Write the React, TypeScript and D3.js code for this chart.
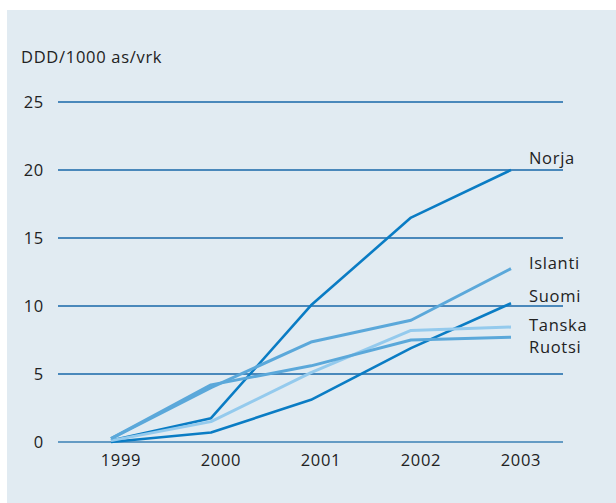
import React from "react";
import * as d3 from "d3";

const years = ["1999", "2000", "2001", "2002", "2003"];
const yTicks = [0, 5, 10, 15, 20, 25];
const seriesNames = ["Norja", "Islanti", "Suomi", "Tanska", "Ruotsi"];
const norja = [0.1, 1.75, 10.05, 16.5, 20.0];
const islanti = [0.25, 4.0, 7.35, 8.95, 12.75];
const suomi = [0.0, 0.7, 3.1, 6.9, 10.2];
const tanska = [0.1, 1.5, 5.1, 8.2, 8.45];
const ruotsi = [0.25, 4.2, 5.6, 7.5, 7.7];
const yLabel = "DDD/1000 as/vrk";

const seriesValues = [norja, islanti, suomi, tanska, ruotsi];
const styles = [
  { color: "#0a7cc4", width: 2.6, dy: -6 },
  { color: "#5ba8da", width: 3, dy: 0 },
  { color: "#0a7cc4", width: 2.6, dy: -1 },
  { color: "#94caed", width: 3, dy: 4 },
  { color: "#5ba8da", width: 3, dy: 16 },
];

const W = 616;
const H = 503;
const FONT = "'Open Sans', sans-serif";
const FS = 16.5;
const LS = 0.7;

export default function App() {
  const x = d3.scalePoint<string>().domain(years).range([111, 511]);
  const y = d3.scaleLinear().domain([0, 25]).range([442, 102]);
  const line = d3
    .line<number>()
    .x((_, i) => x(years[i]) as number)
    .y((d) => y(d));

  return (
    <svg
      width={W}
      height={H}
      style={{ position: "absolute", left: 0, top: 0, display: "block" }}
    >
      <rect x={0} y={0} width={W} height={H} fill="#ffffff" />
      <rect x={7} y={10} width={W - 7} height={H - 10} fill="#e1ebf2" />
      <text x={21} y={63} fontFamily={FONT} fontSize={FS} letterSpacing={LS} fill="#222">
        {yLabel}
      </text>
      {yTicks.map((t) => (
        <g key={t}>
          <line
            x1={58}
            x2={563}
            y1={y(t)}
            y2={y(t)}
            stroke={t === 0 ? "#3a80b5" : "#1767a8"}
            strokeWidth={1.6}
          />
          <text
            x={44}
            y={y(t)}
            dy="0.35em"
            textAnchor="end"
            fontFamily={FONT}
            fontSize={FS}
            letterSpacing={LS}
            fill="#222"
          >
            {t}
          </text>
        </g>
      ))}
      {years.map((yr) => (
        <text
          key={yr}
          x={(x(yr) as number) + 10}
          y={466}
          textAnchor="middle"
          fontFamily={FONT}
          fontSize={FS}
          letterSpacing={LS}
          fill="#222"
        >
          {yr}
        </text>
      ))}
      {seriesValues.map((vals, i) => (
        <path
          key={seriesNames[i]}
          d={line(vals) || ""}
          fill="none"
          stroke={styles[i].color}
          strokeWidth={styles[i].width}
          strokeLinejoin="round"
        />
      ))}
      {seriesValues.map((vals, i) => (
        <text
          key={"l" + seriesNames[i]}
          x={529}
          y={y(vals[vals.length - 1]) + styles[i].dy}
          fontFamily={FONT}
          fontSize={FS}
          letterSpacing={LS}
          fill="#222"
        >
          {seriesNames[i]}
        </text>
      ))}
    </svg>
  );
}
